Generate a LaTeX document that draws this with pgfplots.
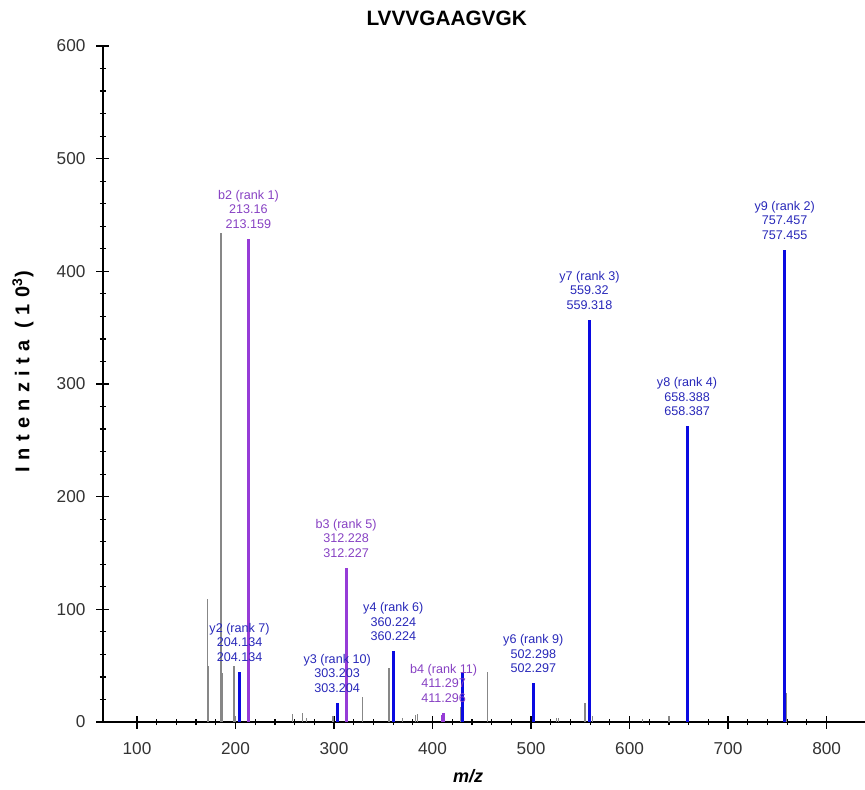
\documentclass[border=0pt]{standalone}
\usepackage{fontspec}
\setmainfont{Liberation Sans}
\usepackage{pgfplots}
\pgfplotsset{compat=1.18}

\definecolor{pkgray}{RGB}{135,135,135}
\definecolor{pkblue}{RGB}{10,10,225}
\definecolor{pkpurple}{RGB}{150,60,215}
\definecolor{lblblue}{RGB}{40,40,185}
\definecolor{lblpurple}{RGB}{135,65,195}

\tikzset{lab/.style={align=center, anchor=south, inner sep=0pt, yshift=5pt,
        font=\fontsize{6.3}{7.25}\selectfont}}

\begin{document}
\begin{tikzpicture}
% 1 px of the reference = 0.5pt
\useasboundingbox (-51.5pt,-33.5pt) rectangle (381pt,361pt);
\begin{axis}[
    scale only axis,
    width=381pt, height=338pt,
    xmin=65.5, xmax=839,
    ymin=0, ymax=600,
    axis lines=left,
    axis line style={-, line width=0.7pt},
    clip=false,
    xtick={100,200,...,800},
    ytick={0,100,...,600},
    minor tick num=4,
    tick align=center,
    major tick length=6.5pt,
    minor tick length=3pt,
    tick style={black, line width=0.6pt},
    /pgf/number format/assume math mode=true,
    ticklabel style={font=\fontsize{8.6}{10}\selectfont, text=black!80},
    xticklabel style={yshift=-3.5pt},
    yticklabel style={xshift=-2pt},
    title={LVVVGAAGVGK},
    title style={at={(axis description cs:0.451,1.023)}, anchor=center,
        font=\fontsize{10.4}{12}\selectfont\bfseries},
    xlabel={\textbf{\textit{m/z}}},
    xlabel style={at={(axis description cs:0.479,-0.080)}, anchor=center,
        font=\fontsize{9}{11}\selectfont},
    ylabel={Intenzita (10\textsuperscript{3})},
    ylabel style={at={(axis description cs:-0.105,0.518)}, anchor=center,
        font=\fontsize{10}{12}\selectfont\bfseries\addfontfeature{LetterSpace=32}},
]
% unassigned peaks
\addplot[ycomb, color=pkgray, line width=0.6pt, mark=none] coordinates {
    (171.5,109) (172.4,50) (185.3,434) (186.6,43.5) (198.5,50) (199.5,5)
    (257.7,7) (267.8,8) (272.3,4) (299.0,5) (313.9,22.5) (328.7,22.5)
    (355.8,48) (369.4,4) (383,6) (385,7) (428,13.6) (456,44.6)
    (526,4) (528,4) (554.8,16.6) (562,5) (613.4,3) (640,5) (759.6,26)
};
% y ions
\addplot[ycomb, color=pkblue, line width=1.5pt, mark=none] coordinates {
    (204.134,44.4) (303.203,17) (360.224,63) (430.6,43.8)
    (502.298,34.3) (559.32,357) (658.388,262.7) (757.457,419)
};
% b ions
\addplot[ycomb, color=pkpurple, line width=1.5pt, mark=none] coordinates {
    (213.16,429) (312.228,136.7) (410.3,6) (411.297,8)
};

\node[lab, text=lblpurple] at (axis cs:213.16,429) {b2 (rank 1)\\213.16\\213.159};
\node[lab, text=lblpurple] at (axis cs:312.228,136.7) {b3 (rank 5)\\312.228\\312.227};
\node[lab, text=lblpurple] at (axis cs:411.297,8) {b4 (rank 11)\\411.297\\411.296};
\node[lab, text=lblblue] at (axis cs:204.134,44.4) {y2 (rank 7)\\204.134\\204.134};
\node[lab, text=lblblue] at (axis cs:303.203,17) {y3 (rank 10)\\303.203\\303.204};
\node[lab, text=lblblue] at (axis cs:360.224,63) {y4 (rank 6)\\360.224\\360.224};
\node[lab, text=lblblue] at (axis cs:502.298,34.3) {y6 (rank 9)\\502.298\\502.297};
\node[lab, text=lblblue] at (axis cs:559.32,357) {y7 (rank 3)\\559.32\\559.318};
\node[lab, text=lblblue] at (axis cs:658.388,262.7) {y8 (rank 4)\\658.388\\658.387};
\node[lab, text=lblblue] at (axis cs:757.457,419) {y9 (rank 2)\\757.457\\757.455};
\end{axis}
\end{tikzpicture}
\end{document}
